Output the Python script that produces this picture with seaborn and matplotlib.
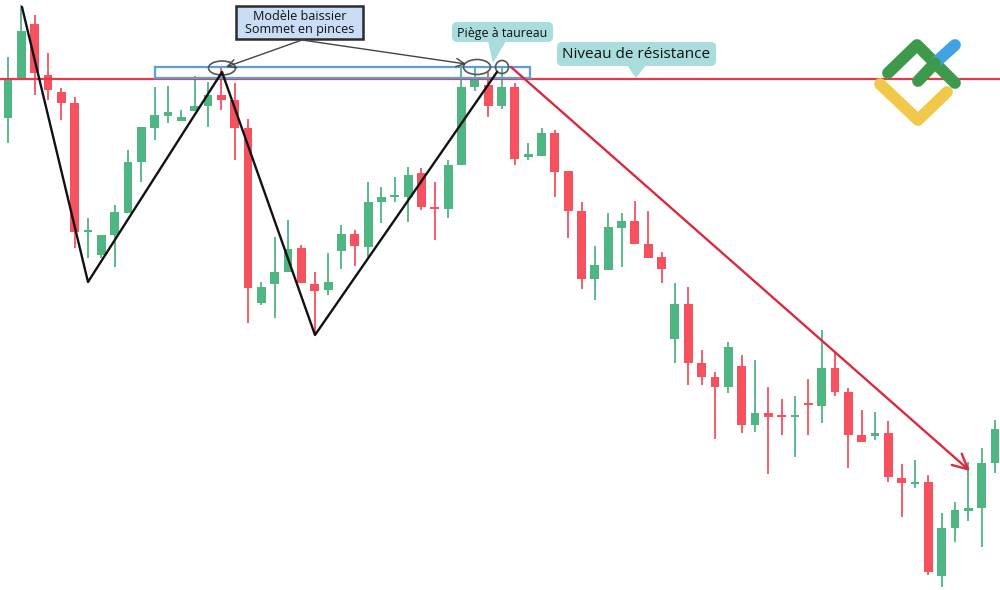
import numpy as np
import pandas as pd
import matplotlib
matplotlib.use("Agg")
import matplotlib.pyplot as plt
import seaborn as sns
from matplotlib.patches import Rectangle, Ellipse, FancyBboxPatch, Polygon

# ---------------- data (price levels) ----------------
opens = [482, 521, 576, 525, 508, 497, 368, 345, 365, 387, 438, 472, 484, 479, 489,
         494, 505, 500, 472, 297, 316, 328, 352, 316, 310, 349, 366, 353, 398, 403,
         403, 427, 393, 391, 435, 513, 515, 494, 513, 443, 444, 467, 429, 389, 321,
         330, 372, 379, 356, 343, 261, 296, 237, 223, 213, 234, 175, 187, 185, 183,
         197, 194, 232, 208, 165, 164, 167, 122, 116, 118, 24, 72, 89, 92, 137]
closes = [522, 569, 527, 510, 497, 368, 370, 365, 388, 438, 473, 485, 488, 483, 494,
          505, 500, 472, 312, 313, 328, 351, 317, 309, 318, 366, 354, 398, 403, 405,
          425, 393, 391, 435, 513, 520, 494, 513, 441, 446, 467, 428, 389, 321, 335,
          373, 379, 356, 342, 331, 296, 237, 223, 213, 253, 175, 187, 183, 183, 185,
          195, 232, 208, 165, 158, 167, 123, 117, 118, 28, 72, 90, 92, 137, 171]
highs = [543, 595, 585, 547, 512, 503, 382, 365, 395, 450, 473, 513, 514, 490, 524,
         518, 532, 517, 481, 318, 363, 380, 355, 328, 347, 375, 370, 418, 413, 423,
         433, 432, 418, 440, 533, 533, 528, 533, 517, 457, 472, 470, 429, 398, 354,
         387, 387, 399, 389, 348, 317, 313, 250, 228, 258, 245, 240, 213, 201, 204,
         221, 270, 248, 212, 190, 188, 179, 136, 140, 125, 87, 98, 138, 152, 180]
lows = [457, 521, 505, 500, 480, 352, 342, 342, 333, 387, 418, 460, 477, 479, 489,
        473, 490, 440, 277, 295, 282, 328, 317, 267, 305, 331, 334, 343, 377, 398,
        378, 390, 360, 382, 435, 509, 483, 491, 435, 440, 444, 403, 362, 311, 300,
        330, 333, 356, 342, 317, 237, 215, 215, 161, 207, 167, 168, 126, 165, 143,
        165, 177, 204, 132, 158, 160, 118, 83, 112, 25, 13, 58, 79, 53, 127]
resistance = 521

df = pd.DataFrame({"open": opens, "close": closes, "high": highs, "low": lows})
df["idx"] = np.arange(len(df))
df["up"] = df["close"] >= df["open"]

GREEN = "#4fb583"
RED = "#f5515f"

sns.set_theme(style="white")
plt.rcParams["font.family"] = ["Open Sans", "DejaVu Sans"]

fig = plt.figure(figsize=(10, 5.9), dpi=100)
ax = fig.add_axes([0, 0, 1, 1])
ax.set_xlim(-0.6, 74.375)
ax.set_ylim(10, 600)
ax.axis("off")

colors = np.where(df["up"], GREEN, RED)
ax.vlines(df["idx"], df["low"], df["high"], colors=colors, lw=1.3, zorder=2)
body_bottom = np.minimum(df["open"], df["close"])
body_h = np.maximum(np.abs(df["close"] - df["open"]), 2.2)
ax.bar(df["idx"], body_h, bottom=body_bottom, width=0.66, color=colors,
       linewidth=0, zorder=3)

ax.axhline(resistance, color="#e8384f", lw=1.6, zorder=4)

# ---------------- overlay in pixel coordinates ----------------
ov = fig.add_axes([0, 0, 1, 1], zorder=5)
ov.set_xlim(0, 1000)
ov.set_ylim(590, 0)
ov.axis("off")
ov.patch.set_alpha(0)

# blue zone rectangle
ov.add_patch(Rectangle((155, 67), 375, 11, fill=False, ec="#5b9fd6", lw=1.6))

# black zigzag
zx = [22, 88, 222, 315, 497]
zy = [7, 282, 72, 335, 72]
ov.plot(zx, zy, color="#111111", lw=1.7, solid_capstyle="round")

# red down arrow
ov.annotate("", xy=(970, 471), xytext=(511, 67),
            arrowprops=dict(arrowstyle="->,head_length=0.9,head_width=0.45",
                            color="#d92a40", lw=1.7, shrinkA=0, shrinkB=0))

# ellipses
for cx, cy, w, h in [(222, 68, 27, 14), (477, 67, 27, 15), (502, 67, 13, 13)]:
    ov.add_patch(Ellipse((cx, cy), w, h, fill=False, ec="#555555", lw=1.2))

# "Modèle baissier" box
ov.add_patch(Rectangle((236, 6), 127, 33, fc="#c9ddf5", ec="#2b2b2b", lw=1.8))
ov.text(300, 16, "Modèle baissier", ha="center", va="center", fontsize=9.1, color="#111111")
ov.text(300, 30, "Sommet en pinces", ha="center", va="center", fontsize=9.1, color="#111111")
for tx, ty in [(226, 67), (466, 64)]:
    ov.annotate("", xy=(tx, ty), xytext=(302, 40),
                arrowprops=dict(arrowstyle="->,head_length=0.5,head_width=0.25",
                                color="#444444", lw=1.0, shrinkA=0, shrinkB=0))

TEAL = "#a9dcdc"
# "Piège à taureau" callout
ov.add_patch(FancyBboxPatch((452, 22), 101, 20, boxstyle="round,pad=0,rounding_size=5",
                            fc=TEAL, ec="none"))
ov.add_patch(Polygon([(488, 41), (506, 41), (493, 63)], closed=True, fc=TEAL, ec="none"))
ov.text(502, 33, "Piège à taureau", ha="center", va="center", fontsize=8.9, color="#111111")

# "Niveau de résistance" callout
ov.add_patch(FancyBboxPatch((557, 42), 159, 24, boxstyle="round,pad=0,rounding_size=5",
                            fc=TEAL, ec="none"))
ov.add_patch(Polygon([(627, 65), (646, 65), (636, 78)], closed=True, fc=TEAL, ec="none"))
ov.text(636, 54, "Niveau de résistance", ha="center", va="center", fontsize=11,
        color="#111111")

# logo
ov.plot([888, 917, 955], [73, 45, 83], color="#3e9a4b", lw=8.5, solid_capstyle="round",
        solid_joinstyle="round")
ov.plot([935, 955], [63, 45], color="#3fa2e2", lw=8.5, solid_capstyle="round")
ov.plot([918, 935], [81, 63], color="#3e9a4b", lw=8.5, solid_capstyle="round")
ov.plot([880, 918, 947], [84, 120, 92], color="#f2c84b", lw=8.5, solid_capstyle="round",
        solid_joinstyle="round")

fig.savefig("out.png", dpi=100, facecolor="white")
